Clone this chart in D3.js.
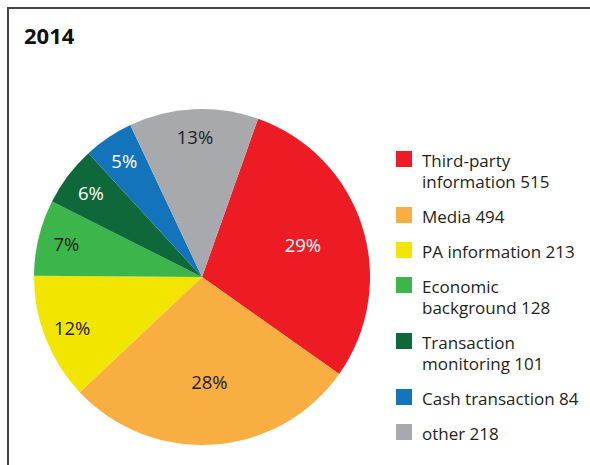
<!DOCTYPE html>
<html>
<head>
<meta charset="utf-8">
<script src="https://cdn.jsdelivr.net/npm/d3@7"></script>
<style>
  html, body { margin: 0; padding: 0; background: #fff; }
  svg { display: block; font-family: "Open Sans", "Noto Sans", sans-serif; }
</style>
</head>
<body>
<div id="chart"></div>
<script>
// data
const title = '2014';
const categories = ['Third-party information', 'Media', 'PA information', 'Economic background',
  'Transaction monitoring', 'Cash transaction', 'other'];
const counts = [515, 494, 213, 128, 101, 84, 218];
const percentLabels = ['29%', '28%', '12%', '7%', '6%', '5%', '13%'];
const colors = ['#ed1c24', '#f9ae41', '#f2e500', '#3cb54a', '#0f6839', '#1474bb', '#a7a9ac'];
const labelColors = ['#fff', '#231f20', '#231f20', '#231f20', '#fff', '#fff', '#231f20'];

const width = 590, height = 465;
const cx = 202, cy = 277, radius = 168;

const svg = d3.select('#chart').append('svg')
  .attr('width', width)
  .attr('height', height);

// frame: top + left rule only
svg.append('path')
  .attr('d', `M8,${height} V8 H${width}`)
  .attr('fill', 'none')
  .attr('stroke', '#454545')
  .attr('stroke-width', 2);

svg.append('text')
  .attr('x', 24)
  .attr('y', 44)
  .attr('font-size', 22)
  .attr('font-weight', 'bold')
  .attr('fill', '#111')
  .text(title);

const data = categories.map((c, i) => ({ name: c, value: counts[i], pct: percentLabels[i], i }));

const startA = 19.5 * Math.PI / 180;
const pie = d3.pie().value(d => d.value).sort(null)
  .startAngle(startA).endAngle(startA + 2 * Math.PI);
const arc = d3.arc().innerRadius(0).outerRadius(radius);

const g = svg.append('g').attr('transform', `translate(${cx},${cy})`);
const arcs = pie(data);

g.selectAll('path.slice')
  .data(arcs)
  .join('path')
  .attr('class', 'slice')
  .attr('d', arc)
  .attr('fill', d => colors[d.data.i]);

// big slices get labels nearer the centre
const labelArc = d => {
  const share = (d.endAngle - d.startAngle) / (2 * Math.PI);
  const r = share > 0.2 ? radius * 0.63 : radius * 0.83;
  return d3.arc().innerRadius(r).outerRadius(r).centroid(d);
};

g.selectAll('text.pct')
  .data(arcs)
  .join('text')
  .attr('class', 'pct')
  .attr('x', d => labelArc(d)[0])
  .attr('y', d => labelArc(d)[1])
  .attr('dy', '0.36em')
  .attr('text-anchor', 'middle')
  .attr('font-size', 18.5)
  .attr('fill', d => labelColors[d.data.i])
  .text(d => d.data.pct);

// legend
const legendX = 396, legendTop = 151, lineH = 21, rowGap = 35, wrapW = 175;
const legend = svg.append('g').attr('font-size', 17).attr('fill', '#231f20');
let y = legendTop;
data.forEach(d => {
  const item = legend.append('g').attr('transform', `translate(${legendX},${y})`);
  item.append('rect')
    .attr('width', 16)
    .attr('height', 16)
    .attr('fill', colors[d.i]);
  const t = item.append('text').attr('x', 26).attr('y', 16);
  // greedy word wrap
  const words = (d.name + ' ' + d.value).split(' ');
  let lines = [], cur = [];
  const probe = legend.append('text');
  words.forEach(w => {
    const test = cur.concat(w).join(' ');
    probe.text(test);
    if (cur.length && probe.node().getComputedTextLength() > wrapW) {
      lines.push(cur.join(' '));
      cur = [w];
    } else cur.push(w);
  });
  lines.push(cur.join(' '));
  probe.remove();
  lines.forEach((ln, k) => {
    t.append('tspan').attr('x', 26).attr('dy', k ? lineH : 0).text(ln);
  });
  y += rowGap + lineH * (lines.length - 1);
});
</script>
</body>
</html>
